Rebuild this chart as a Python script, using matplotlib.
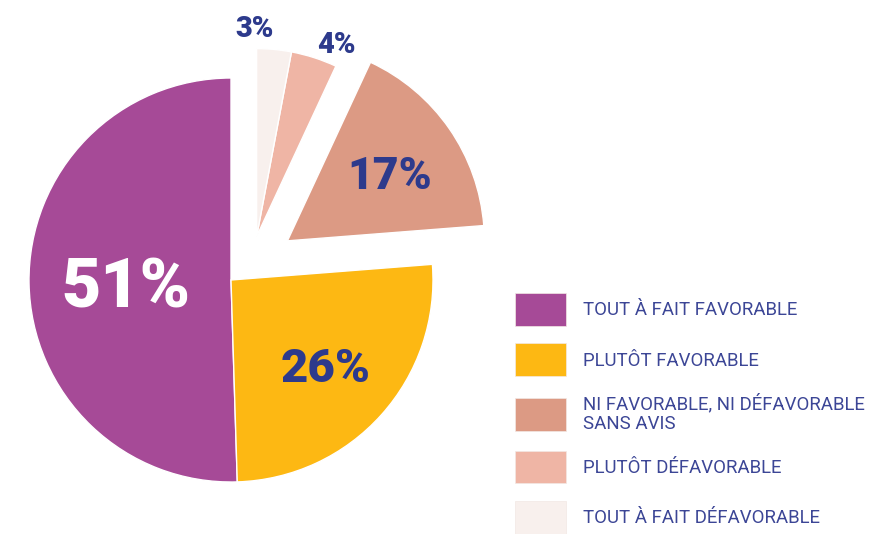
""" Pie chart: opinion split, with exploded minority slices and a legend on the right """
import numpy as np
import matplotlib as mat
mat.use('agg')
import matplotlib.pyplot as plt

# data
categories = ["TOUT À FAIT FAVORABLE",
              "PLUTÔT FAVORABLE",
              "NI FAVORABLE, NI DÉFAVORABLE\nSANS AVIS",
              "PLUTÔT DÉFAVORABLE",
              "TOUT À FAIT DÉFAVORABLE"]
values = [51, 26, 17, 4, 3]
pct_labels = ["51%", "26%", "17%", "4%", "3%"]

colors = ["#a64a97", "#fdb813", "#dc9a84", "#efb5a5", "#f8f0ed"]
navy = "#2d3a8c"

W, H = 871, 534
fig = plt.figure(figsize=(W / 100, H / 100), dpi=100)
ax = fig.add_axes([0, 0, 1, 1])

explode = [0, 0, 0.34, 0, 0]
wedges, _ = ax.pie(values, colors=colors, startangle=90, counterclock=True,
                   explode=explode, radius=1.0,
                   wedgeprops=dict(edgecolor='white', linewidth=1))

# one data unit = pie radius = 202 px, pie centre at (231, 280) px
R = 202.0
cx, cy = 231.0, 280.0
ax.set_xlim(-cx / R, (W - cx) / R)
ax.set_ylim(-(H - cy) / R, cy / R)
ax.set_aspect('equal')
ax.axis('off')

# the two small slices are pulled out together, and drawn a bit smaller
shift = 0.25
shift_ang = np.deg2rad(59.5)
for w in wedges[3:]:
    w.set_center((shift * np.cos(shift_ang), shift * np.sin(shift_ang)))
    w.set_radius(0.93)
wedges[2].set_radius(0.975)

# percentage labels
label_dist = [0.52, 0.63, 0.61, 1.04, 1.04]
label_ang_shift = [0, 0, -1, -4.6, 6.0]
label_size = [49, 34, 32, 21, 21]
label_color = ["white", navy, navy, navy, navy]
for w, txt, d, da, fs, c in zip(wedges, pct_labels, label_dist,
                                label_ang_shift, label_size, label_color):
    mid = np.deg2rad((w.theta1 + w.theta2) / 2 + da)
    x0, y0 = w.center
    ax.text(x0 + d * np.cos(mid), y0 + d * np.sin(mid), txt,
            ha='center', va='center_baseline', fontsize=fs, color=c,
            fontweight='heavy', family=['Roboto', 'DejaVu Sans'])

leg = ax.legend(wedges, categories, loc='upper left',
                bbox_to_anchor=(515 / W, (H - 293) / H),
                frameon=False, borderpad=0, borderaxespad=0,
                handlelength=2.75, handleheight=2.35,
                handletextpad=0.9, labelspacing=0.94,
                prop=dict(family=['Roboto', 'DejaVu Sans'], size=13.4))
for t in leg.get_texts():
    t.set_color("#3c4696")
    t.set_linespacing(1.1)
for h in leg.legend_handles:
    h.set_edgecolor('#f2e8e4')
    h.set_linewidth(0.5)

fig.savefig('out.png', dpi=100)
